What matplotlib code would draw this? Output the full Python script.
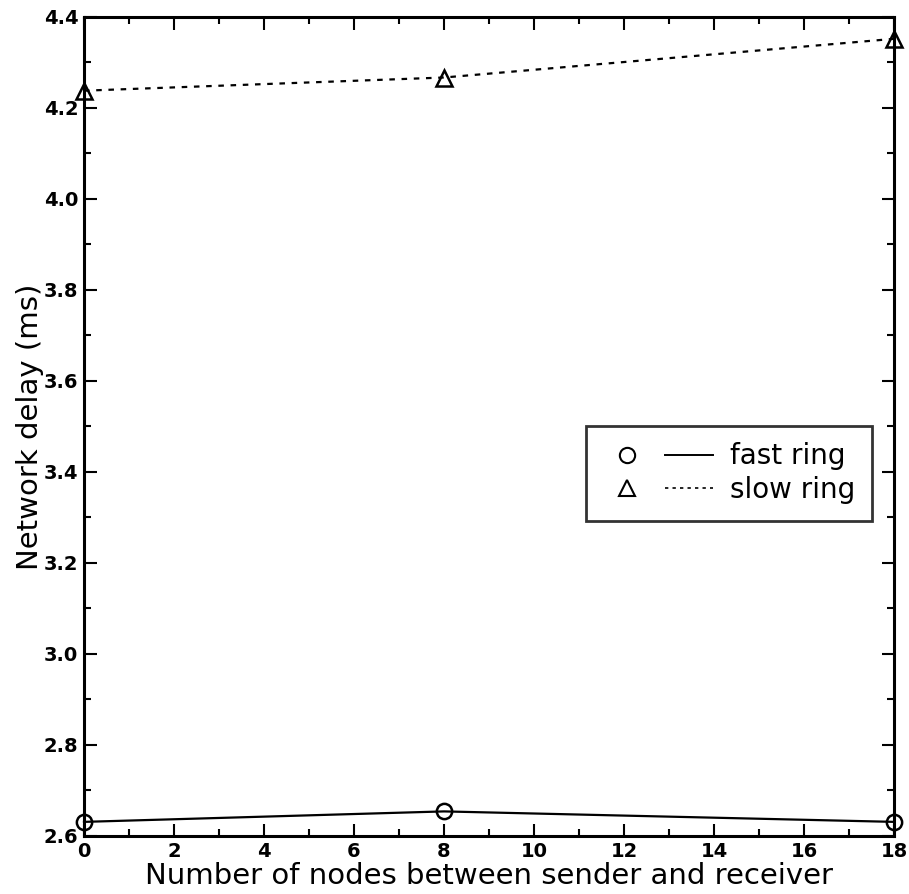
import matplotlib
matplotlib.use("Agg")
import matplotlib.pyplot as plt
from matplotlib.lines import Line2D
from matplotlib.legend_handler import HandlerTuple
from matplotlib.ticker import MultipleLocator

nodes = [0, 8, 18]
fast_ring = [2.631, 2.654, 2.631]
slow_ring = [4.238, 4.267, 4.352]
series_labels = ["fast ring", "slow ring"]
x_label = "Number of nodes between sender and receiver"
y_label = "Network delay (ms)"

plt.rcParams['font.family'] = ['DejaVu Sans']

fig = plt.figure(figsize=(9.09, 8.94), dpi=100)
ax = fig.add_axes([0.0924, 0.0649, 0.8911, 0.9161])

ax.plot(nodes, fast_ring, color='black', lw=1.6, linestyle='-',
        marker='o', markersize=11, markerfacecolor='none', markeredgewidth=1.8,
        clip_on=False, zorder=3)
ax.plot(nodes, slow_ring, color='black', lw=1.6, linestyle=(0, (2.5, 3)),
        marker='^', markersize=11, markerfacecolor='none', markeredgewidth=1.8,
        clip_on=False, zorder=3)

ax.set_xlim(0, 18)
ax.set_ylim(2.6, 4.4)
ax.xaxis.set_major_locator(MultipleLocator(2))
ax.xaxis.set_minor_locator(MultipleLocator(1))
ax.yaxis.set_major_locator(MultipleLocator(0.2))
ax.yaxis.set_minor_locator(MultipleLocator(0.1))
ax.tick_params(which='both', direction='in', top=True, right=True, width=1.5)
ax.tick_params(which='major', length=9, labelsize=14, pad=4)
ax.tick_params(which='minor', length=5)
ax.set_xticks(ax.get_xticks())
ax.set_xticklabels([f"{int(v)}" for v in ax.get_xticks()])
ax.set_yticks(ax.get_yticks())
ax.set_yticklabels([f"{v:.1f}" for v in ax.get_yticks()])
ax.set_xlim(0, 18)
ax.set_ylim(2.6, 4.4)
for lab in ax.get_xticklabels() + ax.get_yticklabels():
    lab.set_fontweight('bold')
for s in ax.spines.values():
    s.set_linewidth(2.2)

ax.set_xlabel(x_label, fontsize=21, labelpad=1)
ax.set_ylabel(y_label, fontsize=21, labelpad=0)

h_fast = (Line2D([], [], marker='o', color='black', markersize=11, markerfacecolor='none',
                 markeredgewidth=1.5, linestyle='none'),
          Line2D([], [], color='black', lw=1.4, linestyle='-'))
h_slow = (Line2D([], [], marker='^', color='black', markersize=11, markerfacecolor='none',
                 markeredgewidth=1.5, linestyle='none'),
          Line2D([], [], color='black', lw=1.2, linestyle=(0, (2, 2.5))))
leg = ax.legend([h_fast, h_slow], series_labels,
                handler_map={tuple: HandlerTuple(ndivide=None, pad=0.5)},
                loc='center', bbox_to_anchor=(0.617, 0.380, 0.358, 0.126),
                fontsize=20, handlelength=4.0, handletextpad=0.6,
                frameon=True, fancybox=False, edgecolor='black',
                labelspacing=0.2, borderpad=0.6, borderaxespad=0)
leg.get_frame().set_linewidth(2.0)

fig.savefig("out.png", dpi=100)
